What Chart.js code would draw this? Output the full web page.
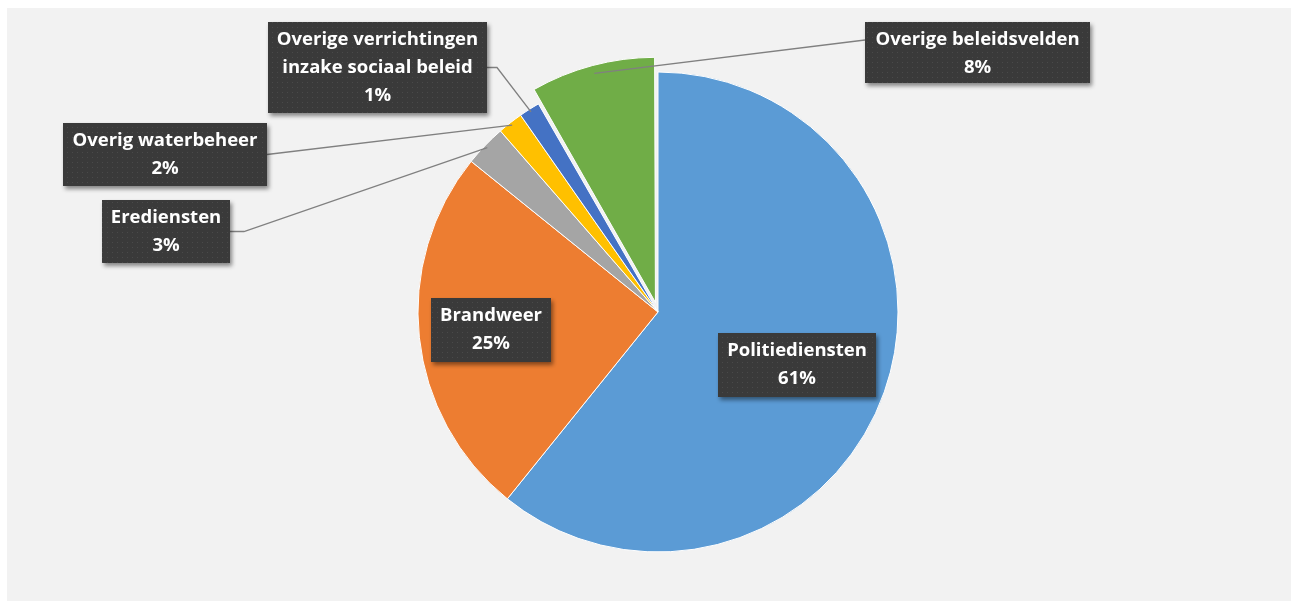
<!DOCTYPE html>
<html>
<head>
<meta charset="utf-8">
<script src="https://cdn.jsdelivr.net/npm/chart.js@4"></script>
<style>
  html, body { margin: 0; padding: 0; background: #fff; }
  #wrap { width: 1298px; height: 609px; }
</style>
</head>
<body>
<div id="wrap"><canvas id="pieChart" width="1298" height="609"></canvas></div>
<script>
const categories = ['Politiediensten', 'Brandweer', 'Erediensten', 'Overig waterbeheer',
    'Overige verrichtingen inzake sociaal beleid', 'Overige beleidsvelden'];
const shares = [60.8, 25.0, 2.8, 1.7, 1.4, 8.3];
const sliceColors = ['#5B9BD5', '#ED7D31', '#A5A5A5', '#FFC000', '#4472C4', '#70AD47'];
const labelLines = [
    ['Politiediensten'],
    ['Brandweer'],
    ['Erediensten'],
    ['Overig waterbeheer'],
    ['Overige verrichtingen', 'inzake sociaal beleid'],
    ['Overige beleidsvelden'],
];

// label box layout: x, y, w, h and which side the leader line leaves from
const boxes = [
    { x: 718, y: 333, w: 158, h: 64, leader: null },
    { x: 431, y: 298, w: 120, h: 64, leader: null },
    { x: 102, y: 200, w: 128, h: 63, leader: 'right', elbow: 14 },
    { x: 63, y: 123, w: 204, h: 63, leader: 'right', elbow: 0 },
    { x: 268, y: 22, w: 219, h: 91, leader: 'right', elbow: 10 },
    { x: 865, y: 22, w: 225, h: 61, leader: 'left', elbow: 0, ly: 40 },
];
const sliceOffsets = [0, 0, 0, 0, 0, 40];

function makePattern(ctx) {
    const tile = document.createElement('canvas');
    tile.width = 5;
    tile.height = 5;
    const t = tile.getContext('2d');
    t.fillStyle = '#3a3a3a';
    t.fillRect(0, 0, 5, 5);
    t.fillStyle = '#4a4a4a';
    t.fillRect(2, 2, 1, 1);
    return ctx.createPattern(tile, 'repeat');
}

const backgroundPanel = {
    id: 'backgroundPanel',
    beforeDraw(chart) {
        const ctx = chart.ctx;
        ctx.save();
        ctx.fillStyle = '#ffffff';
        ctx.fillRect(0, 0, chart.width, chart.height);
        ctx.fillStyle = '#F2F2F2';
        ctx.fillRect(7, 8, 1284, 593);
        ctx.restore();
    },
};

const dataLabels = {
    id: 'dataLabels',
    afterDatasetsDraw(chart) {
        const ctx = chart.ctx;
        const meta = chart.getDatasetMeta(0);
        const total = shares.reduce((a, b) => a + b, 0);
        const pattern = makePattern(ctx);

        // leader lines first
        ctx.save();
        ctx.strokeStyle = '#808080';
        ctx.lineWidth = 1.3;
        meta.data.forEach((arc, i) => {
            const b = boxes[i];
            if (!b.leader) return;
            const p = arc.getProps(['x', 'y', 'startAngle', 'endAngle', 'outerRadius'], true);
            const mid = (p.startAngle + p.endAngle) / 2;
            const r = p.outerRadius - 3 + sliceOffsets[i] / 4;
            const ex = p.x + Math.cos(mid) * r;
            const ey = p.y + Math.sin(mid) * r;
            const sx = b.leader === 'right' ? b.x + b.w : b.x;
            const sy = b.ly || (b.y + b.h / 2);
            const dir = b.leader === 'right' ? 1 : -1;
            ctx.beginPath();
            ctx.moveTo(sx, sy);
            ctx.lineTo(sx + dir * b.elbow, sy);
            ctx.lineTo(ex, ey);
            ctx.stroke();
        });
        ctx.restore();

        meta.data.forEach((arc, i) => {
            const b = boxes[i];
            ctx.save();
            ctx.shadowColor = 'rgba(0,0,0,0.45)';
            ctx.shadowBlur = 4;
            ctx.shadowOffsetX = 2;
            ctx.shadowOffsetY = 3;
            ctx.fillStyle = pattern;
            ctx.fillRect(b.x, b.y, b.w, b.h);
            ctx.restore();

            const lines = labelLines[i].concat([Math.round(shares[i] / total * 100) + '%']);
            ctx.save();
            ctx.fillStyle = '#ffffff';
            ctx.font = 'bold 18.5px "Open Sans"';
            ctx.textAlign = 'center';
            ctx.textBaseline = 'middle';
            lines.forEach((txt, j) => {
                ctx.fillText(txt, b.x + b.w / 2, b.y + 18 + 28 * j);
            });
            ctx.restore();
        });
    },
};

// eslint-disable-next-line no-new
new Chart(document.getElementById('pieChart'), {
    type: 'pie',
    data: {
        labels: categories,
        datasets: [{
            data: shares,
            backgroundColor: sliceColors,
            borderColor: '#ffffff',
            borderWidth: 1,
            offset: sliceOffsets,
            radius: 240,
        }],
    },
    options: {
        responsive: false,
        animation: false,
        layout: {
            padding: { left: 18, top: 15, right: 0, bottom: 0 },
        },
        plugins: {
            legend: { display: false },
            tooltip: { enabled: false },
        },
    },
    plugins: [backgroundPanel, dataLabels],
});
</script>
</body>
</html>
